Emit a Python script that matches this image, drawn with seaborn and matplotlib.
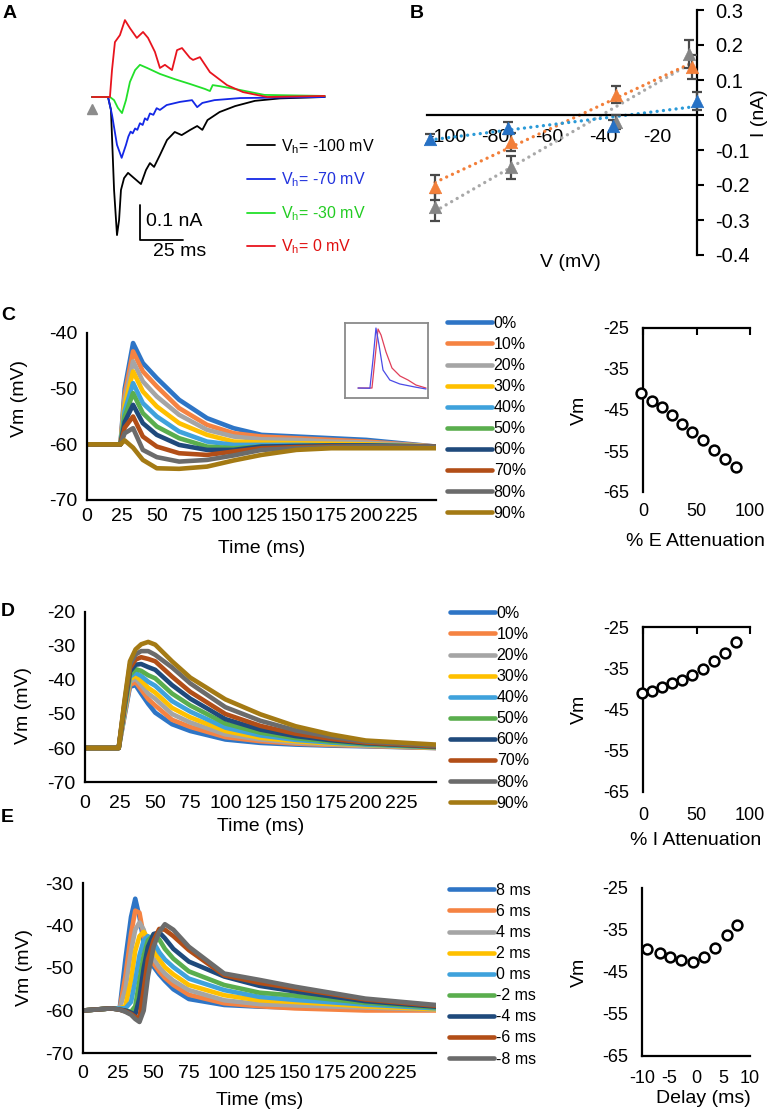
import pandas as pd
import matplotlib
matplotlib.use("Agg")
import matplotlib.pyplot as plt
from matplotlib.ticker import FuncFormatter
import seaborn as sns

sns.set_theme(style="white")
plt.rcParams["font.family"] = ["Liberation Sans", "DejaVu Sans"]
plt.rcParams["axes.unicode_minus"] = False
plt.rcParams["mathtext.fontset"] = "custom"
plt.rcParams["mathtext.rm"] = "Liberation Sans"
for key in ["axes.edgecolor", "xtick.color", "ytick.color", "text.color", "axes.labelcolor"]:
    plt.rcParams[key] = "black"

W, H = 775, 1114
FS = 14

# ---- panel A: example currents (ms, nA) ----
a_t_black = [0, 9.3, 11, 12.8, 14.5, 15.7, 16.8, 18.6, 20.9, 24.4, 28.4, 31.3, 33.6, 36, 39.4, 43.5,
             48, 52, 57, 61, 64, 67, 74, 83, 94.5, 109, 135]
a_i_black = [0, 0, -0.037, -0.266, -0.395, -0.352, -0.266, -0.232, -0.217, -0.232, -0.249, -0.209,
             -0.189, -0.2, -0.166, -0.123, -0.1, -0.109, -0.094, -0.083, -0.094, -0.066, -0.043,
             -0.026, -0.011, -0.004, 0]
a_t_blue = [0, 9.3, 11.6, 14.5, 17.2, 19.7, 21.1, 22.4, 23.6, 25, 26.3, 27.8, 29.4, 30.7, 32.1, 33.6,
            35.6, 37.5, 39.4, 43.3, 51, 58, 61, 64, 71, 86, 135]
a_i_blue = [0, 0, -0.051, -0.137, -0.174, -0.137, -0.113, -0.099, -0.104, -0.09, -0.094, -0.075,
            -0.08, -0.061, -0.066, -0.047, -0.051, -0.032, -0.037, -0.023, -0.014, -0.009, -0.029,
            -0.017, -0.009, -0.003, 0]
a_t_green = [0, 10.4, 12.8, 15, 17.4, 19.7, 22, 25, 27.8, 32, 39.4, 48, 57, 65.5, 68.4, 70, 74, 86,
             100, 135]
a_i_green = [0, 0, -0.009, -0.031, -0.046, -0.009, 0.043, 0.077, 0.092, 0.083, 0.066, 0.051, 0.037,
             0.023, 0.017, 0.034, 0.031, 0.02, 0.006, 0.003]
a_t_red = [0, 10.4, 11.6, 13.3, 16.2, 19.1, 22, 26, 29.6, 32.5, 36.5, 39.4, 42.3, 46.4, 49.3, 52.2,
           56.8, 58.6, 62.6, 68.4, 78.3, 87.6, 101.5, 135]
a_i_red = [0, 0, 0.077, 0.157, 0.177, 0.22, 0.197, 0.169, 0.186, 0.169, 0.129, 0.083, 0.092, 0.077,
           0.134, 0.14, 0.112, 0.106, 0.114, 0.071, 0.034, 0.014, 0, 0.003]
a_labels = ["-100", "-70", "-30", "0"]
stim_t = [0]
stim_i = [-0.035]

# ---- panel B: I-V relation ----
b_v = {"blue": [-99, -70, -31, 0], "orange": [-97, -69, -30, -2], "gray": [-97, -69, -30, -3]}
b_i = {"blue": [-0.068, -0.037, -0.03, 0.04], "orange": [-0.206, -0.077, 0.058, 0.137],
       "gray": [-0.263, -0.149, -0.02, 0.175]}
b_err = {"blue": [0.015, 0.018, 0.015, 0.025], "orange": [0.036, 0.026, 0.025, 0.035],
         "gray": [0.04, 0.033, 0.02, 0.04]}

# ---- panel C: E attenuation ----
pct_labels = ["0%", "10%", "20%", "30%", "40%", "50%", "60%", "70%", "80%", "90%"]
c_time = [0, 24, 27, 33, 40, 50, 66, 86, 105, 125, 150, 175, 200, 250]
c_traces = [
    [-60, -60, -50, -41.8, -45.4, -48.1, -52.0, -55.3, -57.1, -58.3, -58.6, -58.9, -59.2, -60.4],
    [-60, -60, -51, -43.3, -46.9, -49.6, -53.5, -56.5, -58.0, -58.6, -58.9, -59.2, -59.5, -60.4],
    [-60, -60, -52, -45.1, -48.7, -51.4, -54.7, -57.4, -58.6, -59.1, -59.2, -59.5, -59.7, -60.4],
    [-60, -60, -53, -46.9, -50.5, -53.2, -56.2, -58.3, -59.5, -59.7, -59.8, -59.9, -60.0, -60.4],
    [-60, -60, -54, -49.0, -52.6, -55.0, -57.7, -59.5, -60.1, -60.1, -60.1, -60.2, -60.2, -60.4],
    [-60, -60, -55, -50.8, -54.4, -56.8, -58.9, -60.4, -60.7, -60.4, -60.3, -60.2, -60.2, -60.4],
    [-60, -60, -56, -52.9, -56.2, -58.3, -60.1, -61.0, -61.0, -60.4, -60.3, -60.2, -60.2, -60.4],
    [-60, -60, -57, -55.0, -58.6, -60.4, -61.6, -61.9, -61.3, -60.7, -60.5, -60.4, -60.4, -60.4],
    [-60, -60, -58, -57.1, -61.0, -62.3, -63.1, -62.8, -62.0, -61.0, -60.7, -60.5, -60.4, -60.4],
    [-60, -60, -59.3, -60.6, -62.8, -64.3, -64.4, -64.0, -62.9, -61.9, -61.0, -60.7, -60.7, -60.7],
]
c_att = [-1.5, 8, 17.5, 27, 36, 45.5, 56.5, 66.5, 77, 87]
c_peak = [-40.8, -42.7, -44.3, -46.3, -48.4, -50.4, -52.3, -54.8, -57.0, -59.0]
inset_t_blue = [15.7, 30, 33.7, 37.3, 41, 45.8, 54, 66, 84, 97.6]
inset_v_blue = [13.3, 13, 50.7, 93.3, 70.7, 37.3, 24, 18.7, 14.7, 12]
inset_t_red = [15.7, 32.5, 36, 39.8, 43.4, 49.4, 56.6, 66.3, 75.9, 85.5, 97.6]
inset_v_red = [13.3, 13.3, 50.7, 92, 84, 61.3, 40, 29.3, 24, 17.3, 13.3]

# ---- panel D: I attenuation ----
d_time = [0, 24, 28, 32, 36, 40, 45, 50, 62, 75, 100, 125, 150, 175, 200, 250]
d_traces = [
    [-60, -60, -51, -42, -41.5, -44, -47, -49.6, -53, -55, -57.5, -58.5, -59, -59.3, -59.5, -60],
    [-60, -60, -50.5, -41.5, -40.6, -42.8, -45.6, -47.5, -51.7, -53.8, -56.8, -58, -58.7, -59.1, -59.4, -60],
    [-60, -60, -50, -40.5, -39.6, -41.5, -44, -45.5, -50, -52.5, -56, -57.5, -58.4, -58.9, -59.3, -59.9],
    [-60, -60, -49.5, -39.8, -38.7, -40.2, -42.3, -43.7, -48.2, -51, -55, -57, -58, -58.7, -59.1, -59.9],
    [-60, -60, -49, -39, -37.9, -38.8, -40.5, -41.7, -46.2, -49.3, -54, -56.3, -57.6, -58.4, -59, -59.8],
    [-60, -60, -48.5, -38.5, -36.8, -37.3, -38.6, -39.5, -44, -47.5, -52.8, -55.5, -57.1, -58.1, -58.8, -59.7],
    [-60, -60, -48, -37.5, -35.5, -35.3, -36.2, -37, -41.5, -45.5, -51.5, -54.6, -56.5, -57.7, -58.6, -59.6],
    [-60, -60, -47.5, -36.5, -34, -33.3, -33.8, -34.5, -39, -43.5, -50, -53.5, -55.8, -57.3, -58.4, -59.5],
    [-60, -60, -47, -35.5, -32.5, -31.5, -31.5, -32.6, -36.3, -41, -48, -52, -54.8, -56.7, -58.1, -59.3],
    [-60, -60, -46.5, -34.5, -31, -29.5, -28.8, -29.6, -34.5, -39.3, -45.7, -50.1, -53.6, -56, -57.8, -59],
]
d_att = [-1, 8.5, 18, 27, 36.5, 46, 56, 66.5, 77, 87]
d_peak = [-41.1, -40.5, -39.5, -38.6, -37.8, -36.7, -35.1, -33.2, -31.3, -28.6]

# ---- panel E: E-I delay ----
delay_labels = ["8 ms", "6 ms", "4 ms", "2 ms", "0 ms", "-2 ms", "-4 ms", "-6 ms", "-8 ms"]
e_time = [0, 20, 26, 30, 34, 37, 40, 43, 46, 50, 54, 58, 64, 75, 100, 125, 150, 200, 250]
e_traces = [
    [-60, -59.5, -59.5, -48, -38, -33.7, -38, -44, -47, -49.7, -51.5, -53, -55, -57.3, -58.7, -59.1, -59.3, -59.6, -59.8],
    [-60, -59.5, -59.5, -52, -42, -36.5, -37, -42.5, -46.5, -49, -50.8, -52.3, -54, -56.3, -58.3, -59, -59.5, -60, -60],
    [-60, -59.5, -59.5, -55, -46, -41, -39.3, -41, -45, -47.8, -49.8, -51.3, -53, -55.2, -57.6, -58.5, -58.8, -59.3, -59.8],
    [-60, -59.5, -59.5, -59, -53, -46, -42.5, -41.5, -43, -46, -48, -49.8, -51.5, -54, -56.4, -57.6, -58, -59, -59.7],
    [-60, -59.5, -59.5, -59.5, -58, -53, -47, -43.5, -42.5, -44, -46.3, -48, -49.8, -52.5, -55.2, -56.8, -57.5, -58.6, -59.5],
    [-60, -59.5, -59.8, -60, -60.3, -59, -53, -47, -43.5, -42.2, -43.3, -45.5, -47.8, -50.8, -54, -55.8, -56.5, -58.2, -59.3],
    [-60, -59.5, -59.8, -60, -60.5, -61, -57, -50, -45, -42, -41.6, -43, -45.5, -48.5, -52, -54.2, -55.5, -57.8, -59.1],
    [-60, -59.5, -59.8, -60.2, -60.8, -61.5, -61.8, -55, -48, -43.5, -40.8, -41, -42.5, -45.8, -51.7, -53.5, -54.8, -57.4, -58.9],
    [-60, -59.5, -59.8, -60.3, -61, -62, -62.7, -60, -52, -45, -41.5, -39.7, -41, -45, -51.3, -52.8, -54.4, -57.2, -58.7],
]
e_delay = [-9, -6.7, -4.8, -2.7, -0.6, 1.4, 3.5, 5.7, 7.5]
e_peak = [-39.6, -40.5, -41.5, -42.1, -42.5, -41.5, -39.2, -36.1, -33.7]

palette10 = ["#2E75C6", "#F58342", "#A5A5A5", "#FFC000", "#3FA2DC", "#5AAE4E",
             "#1F4A7C", "#B24E17", "#6B6B6B", "#A47A14"]

fig = plt.figure(figsize=(W / 100, H / 100), dpi=100)
fig.patch.set_facecolor("white")


def px_axes(left, top, right, bottom):
    return fig.add_axes([left / W, 1 - bottom / H, (right - left) / W, (bottom - top) / H])


def fx(px):
    return px / W


def fy(px):
    return 1 - px / H


# ---------------- A ----------------
axA = px_axes(80, 10, 345, 262)
ms_px, na_px = 0.58, 0.00286
axA.set_xlim(-(92 - 80) * ms_px, (345 - 92) * ms_px)
axA.set_ylim(-(262 - 97) * na_px, (97 - 10) * na_px)
axA.axis("off")
a_colors = ["black", "#1428E6", "#22E02A", "#E8141E"]
for t, i, c in zip([a_t_black, a_t_blue, a_t_green, a_t_red],
                   [a_i_black, a_i_blue, a_i_green, a_i_red], a_colors):
    sns.lineplot(x=t, y=i, ax=axA, color=c, lw=1.3, sort=False, estimator=None)
a_handles = list(axA.get_lines())
axA.plot(stim_t, stim_i, "^", color="#8C8C8C", ms=7)
# scale bar
sb_t, sb_i = 27.8, -0.409
axA.plot([sb_t, sb_t, sb_t + 25], [sb_i + 0.1, sb_i, sb_i], color="black", lw=1.3)
fig.text(fx(146), fy(222), "0.1 nA", fontsize=FS, ha="left", va="center")
fig.text(fx(180), fy(252), "25 ms", fontsize=FS, ha="center", va="center")
axA.legend(a_handles, [r"$\mathregular{V_h}$= " + v + " mV" for v in a_labels],
           loc="upper left", bbox_to_anchor=(fx(247), fy(137)), bbox_transform=fig.transFigure,
           frameon=False, fontsize=11.5, handlelength=1.75, handletextpad=0.35, labelspacing=0.93,
           borderpad=0, borderaxespad=0,
           labelcolor=["black", "#2233DD", "#22CC22", "#E01010"])

# ---------------- B ----------------
axB = px_axes(427, 10, 697, 255)
b_marker = {"blue": "#2671C5", "orange": "#F27F3A", "gray": "#858585"}
b_line = {"blue": "#2A9AD8", "orange": "#F27F3A", "gray": "#A8A8A8"}
for k in ["gray", "orange", "blue"]:
    sns.regplot(x=b_v[k], y=b_i[k], ax=axB, scatter=False, ci=None, truncate=True,
                line_kws=dict(color=b_line[k], lw=2.4, ls=(0, (0.01, 1.9)), dash_capstyle="round",
                              zorder=2))
for k in ["gray", "orange", "blue"]:
    axB.errorbar(b_v[k], b_i[k], yerr=b_err[k], fmt="none", ecolor="#4A4A4A", elinewidth=1.6,
                 capsize=3.5, capthick=1.6, zorder=3, clip_on=False)
    sns.scatterplot(x=b_v[k], y=b_i[k], ax=axB, marker="^", s=80, color=b_marker[k],
                    edgecolor=b_marker[k], linewidth=0.5, zorder=4, clip_on=False)
axB.set_xlim(-100, 0)
axB.set_ylim(-0.4, 0.3)
axB.spines["left"].set_visible(False)
axB.spines["top"].set_visible(False)
axB.spines["bottom"].set_position(("data", 0))
for s in ["bottom", "right"]:
    axB.spines[s].set_linewidth(1.6)
axB.yaxis.tick_right()
axB.yaxis.set_label_position("right")
axB.set_xticks([-100, -80, -60, -40, -20])
axB.set_yticks([-0.4, -0.3, -0.2, -0.1, 0, 0.1, 0.2, 0.3])
axB.yaxis.set_major_formatter(FuncFormatter(lambda v, p: f"{v:g}"))
axB.tick_params(axis="x", direction="out", length=5, width=1.5, labelsize=FS, pad=5)
axB.tick_params(axis="y", direction="out", length=5, width=1.5, labelsize=FS + 0.5, pad=8)
for lab in axB.get_xticklabels():
    lab.set_horizontalalignment("left")
axB.set_xlabel("V (mV)", fontsize=FS)
axB.xaxis.set_label_coords((570 - 427) / 270, 0.005)
axB.set_ylabel("I (nA)", fontsize=FS)
axB.yaxis.set_label_coords((751 - 427) / 270, (255 - 113) / 245)


# ---------------- trace panels ----------------
def trace_panel(box, time, traces, labels, ylim, yticks, leg_xy, tick_pad, xlab_top, ylab_right, ylab_y):
    ax = px_axes(*box)
    df = pd.concat([pd.DataFrame({"time": time, "vm": v, "cond": lab})
                    for v, lab in zip(traces, labels)], ignore_index=True)
    sns.lineplot(data=df, x="time", y="vm", hue="cond", hue_order=labels,
                 palette=palette10[:len(labels)], lw=3.3, sort=False, estimator=None, ax=ax,
                 solid_joinstyle="round")
    ax.set_xlim(0, 250)
    ax.set_ylim(*ylim)
    ax.set_xticks(range(0, 250, 25))
    ax.set_yticks(yticks)
    sns.despine(ax=ax)
    for s in ["left", "bottom"]:
        ax.spines[s].set_linewidth(1.6)
    ax.tick_params(axis="x", direction="in", length=5, width=1.5, labelsize=FS, pad=tick_pad)
    ax.tick_params(axis="y", direction="out", length=5, width=1.5, labelsize=FS, pad=2)
    height = box[3] - box[1]
    width = box[2] - box[0]
    ax.set_xlabel("Time (ms)", fontsize=FS)
    ax.xaxis.set_label_coords(0.5, (box[3] - xlab_top) / height)
    ax.set_ylabel("Vm (mV)", fontsize=FS)
    ax.yaxis.set_label_coords((ylab_right - box[0]) / width, ylab_y)
    sns.move_legend(ax, "upper left", bbox_to_anchor=(fx(leg_xy[0]), fy(leg_xy[1])),
                    bbox_transform=fig.transFigure, title=None, frameon=False, fontsize=11.5,
                    handlelength=2.8, handletextpad=0.12, labelspacing=0.38, borderpad=0,
                    borderaxespad=0)
    for h in ax.get_legend().legend_handles:
        h.set_linewidth(3.3)
    return ax


def summary_panel(box, x, y, xlim, xticks, top_axis, xlabel, tick_pad, xlab_top, xlab_x):
    ax = px_axes(*box)
    sns.scatterplot(x=x, y=y, ax=ax, marker="o", s=50, color="white", edgecolor="black",
                    linewidth=1.8, clip_on=False, zorder=3)
    ax.set_xlim(*xlim)
    ax.set_ylim(-65, -25)
    ax.set_yticks([-65, -55, -45, -35, -25])
    ax.set_xticks(xticks)
    ax.spines["right"].set_visible(False)
    if top_axis:
        ax.spines["bottom"].set_visible(False)
        ax.tick_params(axis="x", bottom=False, top=True, labelbottom=True, labeltop=False,
                       direction="in", length=5, width=1.5, labelsize=13, pad=tick_pad)
    else:
        ax.spines["top"].set_visible(False)
        ax.tick_params(axis="x", direction="in", length=5, width=1.5, labelsize=13, pad=tick_pad)
    for s in ["left", "top", "bottom"]:
        ax.spines[s].set_linewidth(1.6)
    ax.tick_params(axis="y", direction="out", length=5, width=1.5, labelsize=13, pad=5)
    height = box[3] - box[1]
    ax.set_xlabel(xlabel, fontsize=FS)
    ax.xaxis.set_label_coords(xlab_x, (box[3] - xlab_top) / height)
    ax.set_ylabel("Vm", fontsize=FS)
    ax.yaxis.set_label_coords((588 - box[0]) / (box[2] - box[0]), 0.5)
    return ax


# C
trace_panel((87, 333, 436, 500), c_time, c_traces, pct_labels, (-70, -40), [-70, -60, -50, -40],
            (447, 316), 5.5, 540, 28, 0.605)
axIn = px_axes(345, 323, 428, 398)
sns.lineplot(x=inset_t_red, y=inset_v_red, ax=axIn, color="#E0405A", lw=0.9, sort=False, estimator=None)
sns.lineplot(x=inset_t_blue, y=inset_v_blue, ax=axIn, color="#4B4BE6", lw=0.9, sort=False, estimator=None)
axIn.set_xlim(0, 100)
axIn.set_ylim(0, 100)
axIn.set_xticks([])
axIn.set_yticks([])
for s in axIn.spines.values():
    s.set_visible(True)
    s.set_color("#8A8A8A")
    s.set_linewidth(1.3)
summary_panel((643, 328, 750, 492), c_att, c_peak, (0, 100), [0, 50, 100], True,
              "% E Attenuation", 8, 533, 0.49)

# D
trace_panel((85, 612, 436, 782), d_time, d_traces, pct_labels, (-70, -20),
            [-70, -60, -50, -40, -30, -20], (450, 606), 9, 818, 32, 0.45)
summary_panel((643, 627, 750, 792), d_att, d_peak, (0, 100), [0, 50, 100], True,
              "% I Attenuation", 11, 832, 0.49)

# E
trace_panel((83, 883, 436, 1053), e_time, e_traces, delay_labels, (-70, -30),
            [-70, -60, -50, -40, -30], (449, 883), 8.5, 1092, 33, 0.5)
summary_panel((642, 888, 750, 1056), e_delay, e_peak, (-10, 10), [-10, -5, 0, 5, 10], False,
              "Delay (ms)", 10, 1090, 0.57)

# panel letters
for letter, x, y in [("A", 3, 13), ("B", 410, 14), ("C", 1, 315), ("D", 1, 611), ("E", 1, 818)]:
    fig.text(fx(x), fy(y), letter, fontsize=FS, fontweight="bold", ha="left", va="center")

fig.savefig("out.png", dpi=100, facecolor="white")
